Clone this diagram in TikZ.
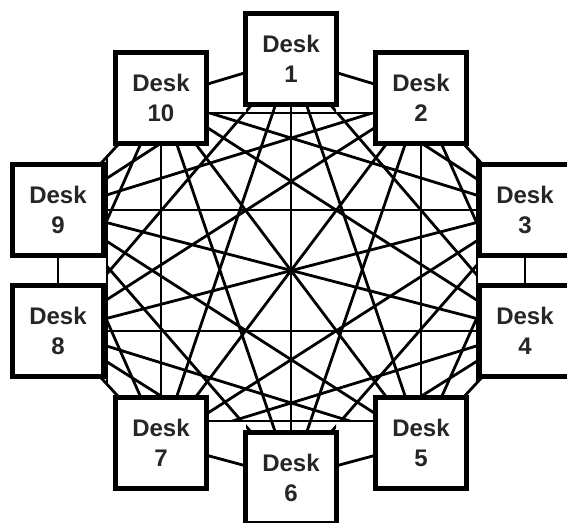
\documentclass[tikz,border=0pt]{standalone}
\usepackage{fontspec}
\setmainfont{Liberation Sans}
\usetikzlibrary{backgrounds}
\begin{document}
\begin{tikzpicture}[x=1pt,y=-1pt,
  desk/.style={draw=black,fill=white,line width=4.8pt,minimum width=91pt,minimum height=91pt,
    inner sep=0pt,align=center,font=\fontsize{24}{30}\selectfont\bfseries,text=black!85},
  link/.style={draw=black,line width=2.8pt}]
\useasboundingbox (0,0) rectangle (567,522);
\clip (0,0) rectangle (567,522);
\node[desk] (d1) at (291,59) {Desk\\1};
\node[desk] (d2) at (421,98) {Desk\\2};
\node[desk] (d3) at (525,210) {Desk\\3};
\node[desk] (d4) at (525,331) {Desk\\4};
\node[desk] (d5) at (421,443) {Desk\\5};
\node[desk] (d6) at (291,478) {Desk\\6};
\node[desk] (d7) at (161,443) {Desk\\7};
\node[desk] (d8) at (58,331) {Desk\\8};
\node[desk] (d9) at (58,210) {Desk\\9};
\node[desk] (d10) at (161,98) {Desk\\10};
\begin{scope}[on background layer]
  % ring of neighbours
  \foreach \i/\j in {1/2,2/3,3/4,4/5,5/6,6/7,7/8,8/9,9/10,10/1}
    \draw[link] (d\i.center) -- (d\j.center);
  % inner web, kept inside the frame
  \begin{scope}
    \clip (147,113) -- (246,113) -- (246,95) -- (336,95) -- (336,113)
          -- (435,113) -- (477,158) -- (477,383) -- (441,421)
          -- (336,421) -- (336,440) -- (246,440) -- (246,421)
          -- (141,421) -- (107,384) -- (107,157) -- cycle;
    \foreach \i in {1,...,8}{
      \pgfmathtruncatemacro{\s}{\i+2}
      \foreach \j in {\s,...,10}{
        \ifnum\i=1 \ifnum\j=10 \else \draw[link] (d\i.center) -- (d\j.center); \fi
        \else \draw[link] (d\i.center) -- (d\j.center); \fi
      }
    }
  \end{scope}
  \draw[link] (147,113) -- (435,113) (477,158) -- (477,383)
              (441,421) -- (141,421) (107,384) -- (107,157);
\end{scope}
\end{tikzpicture}
\end{document}
